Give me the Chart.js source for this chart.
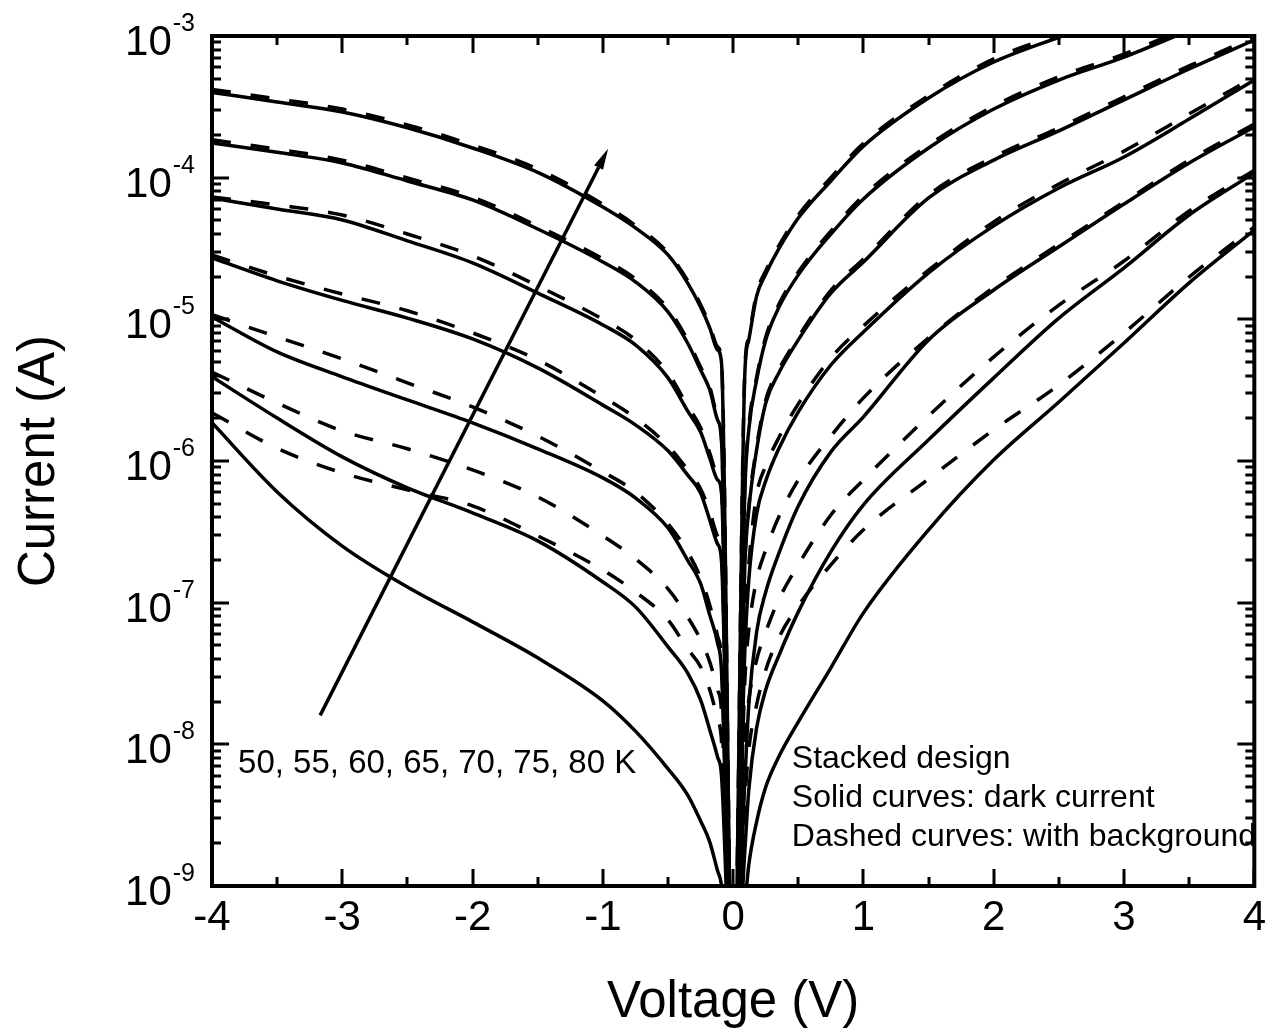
<!DOCTYPE html>
<html>
<head>
<meta charset="utf-8">
<title>Stacked design I-V curves</title>
<script src="https://cdn.jsdelivr.net/npm/chart.js@4.4.1/dist/chart.umd.min.js"></script>
<style>
  html, body { margin: 0; padding: 0; background: #fff; }
  canvas { display: block; }
</style>
</head>
<body>
<canvas id="ivChart" width="1273" height="1034"></canvas>
<script>
// bias sweep shared by all curves (V)
const voltage = [-4, -3.5, -3, -2.5, -2, -1.5, -1, -0.75, -0.5, -0.35, -0.25, -0.18, -0.12, -0.09, 0,
                 0.09, 0.12, 0.18, 0.25, 0.35, 0.5, 0.75, 1, 1.5, 2, 2.5, 3, 3.5, 4];

// dark current (A), solid curves
const dark50 = [1.86e-6, 6.05e-7, 2.51e-7, 1.29e-7, 7.32e-8, 4.08e-8, 2.03e-8, 1.24e-8, 6.72e-9, 4.40e-9, 2.88e-9, 2.05e-9, 1.28e-9, 1.02e-9, 1e-10,
                7.4e-10, 1.41e-9, 2.84e-9, 5.0e-9, 8.16e-9, 1.44e-8, 3.47e-8, 8.47e-8, 3.27e-7, 1.02e-6, 2.61e-6, 6.81e-6, 1.81e-5, 4.27e-5];
const dark55 = [3.93e-6, 2.01e-6, 1.07e-6, 6.46e-7, 4.30e-7, 2.73e-7, 1.40e-7, 9.34e-8, 4.88e-8, 3.20e-8, 2.06e-8, 1.27e-8, 8.16e-9, 6.09e-9, 1e-10,
                1.80e-9, 4.77e-9, 1.31e-8, 2.43e-8, 4.21e-8, 8.61e-8, 2.29e-7, 4.90e-7, 1.41e-6, 3.86e-6, 1.02e-5, 2.31e-5, 5.45e-5, 1.08e-4];
const dark60 = [1.04e-5, 5.89e-6, 3.93e-6, 2.70e-6, 1.86e-6, 1.22e-6, 7.60e-7, 5.49e-7, 3.37e-7, 2.00e-7, 1.36e-7, 8.20e-8, 5.20e-8, 3.35e-8, 1e-10,
                5.61e-9, 1.90e-8, 6.22e-8, 1.19e-7, 2.22e-7, 4.82e-7, 1.16e-6, 2.05e-6, 7.16e-6, 1.61e-5, 3.25e-5, 6.52e-5, 1.27e-4, 2.28e-4];
const dark65 = [2.71e-5, 1.87e-5, 1.36e-5, 1.02e-5, 7.27e-6, 4.54e-6, 2.48e-6, 1.80e-6, 1.18e-6, 7.98e-7, 5.95e-7, 3.84e-7, 2.60e-7, 2.00e-7, 1e-10,
                4.64e-8, 1.45e-7, 4.23e-7, 7.24e-7, 1.22e-6, 2.22e-6, 4.76e-6, 8.15e-6, 2.13e-5, 4.57e-5, 8.46e-5, 1.40e-4, 2.59e-4, 4.89e-4];
const dark70 = [7.19e-5, 6.01e-5, 5.03e-5, 3.58e-5, 2.50e-5, 1.53e-5, 9.13e-6, 6.60e-6, 3.86e-6, 2.26e-6, 1.60e-6, 1.05e-6, 7.36e-7, 6.05e-7, 1e-10,
                1.85e-7, 4.52e-7, 1.20e-6, 2.57e-6, 4.18e-6, 7.16e-6, 1.53e-5, 2.54e-5, 7.19e-5, 1.33e-4, 2.14e-4, 3.54e-4, 5.85e-4, 9.37e-4];
const dark75 = [1.76e-4, 1.51e-4, 1.27e-4, 9.48e-5, 6.96e-5, 4.34e-5, 2.54e-5, 1.84e-5, 1.13e-5, 6.81e-6, 4.39e-6, 3.18e-6, 1.95e-6, 1.41e-6, 1e-10,
                6.25e-7, 1.66e-6, 3.73e-6, 7.16e-6, 1.21e-5, 2.06e-5, 4.0e-5, 7.08e-5, 1.62e-4, 3.05e-4, 4.89e-4, 7.1e-4, 1.10e-3, 1.74e-3];
const dark80 = [4.0e-4, 3.42e-4, 2.91e-4, 2.25e-4, 1.62e-4, 1.09e-4, 6.2e-5, 4.42e-5, 2.85e-5, 1.81e-5, 1.22e-5, 8.7e-6, 6.08e-6, 5.0e-6, 1e-10,
                4.25e-6, 7.16e-6, 1.46e-5, 2.09e-5, 3.14e-5, 5.19e-5, 9.48e-5, 1.67e-4, 3.65e-4, 6.55e-4, 9.8e-4, 1.42e-3, 2.06e-3, 2.83e-3];

// current with background (A), dashed curves
const bg50 = [2.19e-6, 1.23e-6, 8.24e-7, 6.25e-7, 4.82e-7, 2.96e-7, 1.70e-7, 1.19e-7, 7.56e-8, 4.72e-8, 3.53e-8, 2.43e-8, 1.49e-8, 1.07e-8, 1e-10,
              4.07e-9, 9.15e-9, 1.90e-8, 3.35e-8, 5.65e-8, 9.50e-8, 1.85e-7, 3.27e-7, 7.48e-7, 1.66e-6, 3.44e-6, 8.02e-6, 1.99e-5, 4.49e-5];
const bg55 = [4.25e-6, 2.57e-6, 1.63e-6, 1.22e-6, 8.65e-7, 5.58e-7, 2.96e-7, 2.04e-7, 1.25e-7, 7.94e-8, 5.47e-8, 3.82e-8, 2.43e-8, 1.75e-8, 1e-10,
              1.07e-8, 2.06e-8, 3.94e-8, 6.22e-8, 1.05e-7, 1.85e-7, 4.16e-7, 7.36e-7, 2.08e-6, 5.43e-6, 1.26e-5, 2.58e-5, 5.82e-5, 1.13e-4];
const bg60 = [1.08e-5, 7.51e-6, 5.26e-6, 3.56e-6, 2.41e-6, 1.50e-6, 8.38e-7, 6.05e-7, 3.60e-7, 2.29e-7, 1.50e-7, 9.64e-8, 5.83e-8, 3.94e-8, 1e-10,
              2.85e-8, 6.43e-8, 1.45e-7, 2.36e-7, 4.03e-7, 7.36e-7, 1.50e-6, 2.79e-6, 7.39e-6, 1.68e-5, 3.4e-5, 6.74e-5, 1.33e-4, 2.39e-4];
const bg65 = [2.85e-5, 2.02e-5, 1.51e-5, 1.15e-5, 8.02e-6, 5.17e-6, 2.83e-6, 2.01e-6, 1.28e-6, 8.65e-7, 6.36e-7, 4.38e-7, 2.96e-7, 2.29e-7, 1e-10,
              6.43e-8, 1.85e-7, 5.76e-7, 9.23e-7, 1.46e-6, 2.53e-6, 5.34e-6, 8.98e-6, 2.23e-5, 4.87e-5, 9.03e-5, 1.54e-4, 2.82e-4, 5.14e-4];
const bg70 = [7.31e-5, 6.42e-5, 5.45e-5, 4.0e-5, 2.81e-5, 1.72e-5, 1.0e-5, 7.16e-6, 4.18e-6, 2.45e-6, 1.72e-6, 1.14e-6, 7.85e-7, 6.25e-7, 1e-10,
              1.94e-7, 4.75e-7, 1.26e-6, 2.7e-6, 4.4e-6, 7.5e-6, 1.6e-5, 2.67e-5, 7.55e-5, 1.4e-4, 2.25e-4, 3.72e-4, 6.15e-4, 9.85e-4];
const bg75 = [1.85e-4, 1.59e-4, 1.33e-4, 9.95e-5, 7.3e-5, 4.55e-5, 2.67e-5, 1.93e-5, 1.19e-5, 7.15e-6, 4.6e-6, 3.35e-6, 2.05e-6, 1.48e-6, 1e-10,
              6.6e-7, 1.75e-6, 3.9e-6, 7.5e-6, 1.27e-5, 2.16e-5, 4.2e-5, 7.45e-5, 1.7e-4, 3.2e-4, 5.15e-4, 7.45e-4, 1.16e-3, 1.83e-3];
const bg80 = [4.2e-4, 3.6e-4, 3.05e-4, 2.36e-4, 1.7e-4, 1.15e-4, 6.5e-5, 4.6e-5, 2.95e-5, 1.88e-5, 1.27e-5, 9.1e-6, 6.4e-6, 5.2e-6, 1e-10,
              4.5e-6, 7.5e-6, 1.53e-5, 2.2e-5, 3.3e-5, 5.45e-5, 1.0e-4, 1.75e-4, 3.8e-4, 6.9e-4, 1.03e-3, 1.5e-3, 2.15e-3, 2.95e-3];

const temperatures = [50, 55, 60, 65, 70, 75, 80];
const darkCurves = [dark50, dark55, dark60, dark65, dark70, dark75, dark80];
const backgroundCurves = [bg50, bg55, bg60, bg65, bg70, bg75, bg80];

// axis ticks
const xMajorTicks = [-4, -3, -2, -1, 0, 1, 2, 3, 4];
const xMinorTicks = [-3.5, -2.5, -1.5, -0.5, 0.5, 1.5, 2.5, 3.5];
const yDecades = [-9, -8, -7, -6, -5, -4, -3];
const yMinorSteps = [2, 3, 4, 5, 6, 7, 8, 9];

// annotations (data coordinates)
const arrowTail = { x: -3.17, y: 1.6e-8 };
const arrowHead = { x: -0.96, y: 1.6e-4 };
const tempLabel = '50, 55, 60, 65, 70, 75, 80 K';
const tempLabelAt = { x: -3.8, y: 6.3e-9 };
const noteLines = ['Stacked design', 'Solid curves: dark current', 'Dashed curves: with background'];
const noteAt = { x: 0.45, y: 6.8e-9 };

const FONT = "'Liberation Sans', Arial, Helvetica, sans-serif";

// frame, inward ticks, arrow, text and superscript decade labels
const axisDecor = {
  id: 'axisDecor',
  beforeDraw(chart) {
    const { ctx, width, height } = chart;
    ctx.save();
    ctx.fillStyle = '#fff';
    ctx.fillRect(0, 0, width, height);
    ctx.restore();
  },
  afterDatasetsDraw(chart) {
    const { ctx, chartArea: a, scales: { x, y } } = chart;
    ctx.save();
    ctx.strokeStyle = '#000';
    ctx.fillStyle = '#000';
    ctx.lineCap = 'butt';

    ctx.lineWidth = 3;
    ctx.beginPath();
    const vTick = (px, len) => {
      ctx.moveTo(px, a.bottom); ctx.lineTo(px, a.bottom - len);
      ctx.moveTo(px, a.top); ctx.lineTo(px, a.top + len);
    };
    const hTick = (py, len) => {
      ctx.moveTo(a.left, py); ctx.lineTo(a.left + len, py);
      ctx.moveTo(a.right, py); ctx.lineTo(a.right - len, py);
    };
    xMajorTicks.forEach(v => vTick(Math.round(x.getPixelForValue(v)), 17));
    xMinorTicks.forEach(v => vTick(Math.round(x.getPixelForValue(v)), 9));
    const topDecade = yDecades[yDecades.length - 1];
    yDecades.forEach(k => {
      hTick(Math.round(y.getPixelForValue(Math.pow(10, k))), 17);
      if (k < topDecade) {
        yMinorSteps.forEach(m => hTick(Math.round(y.getPixelForValue(m * Math.pow(10, k))), 9));
      }
    });
    ctx.stroke();

    ctx.lineWidth = 4;
    ctx.strokeRect(a.left, a.top, a.right - a.left, a.bottom - a.top);

    // temperature arrow
    const x0 = x.getPixelForValue(arrowTail.x), y0 = y.getPixelForValue(arrowTail.y);
    const x1 = x.getPixelForValue(arrowHead.x), y1 = y.getPixelForValue(arrowHead.y);
    const ang = Math.atan2(y1 - y0, x1 - x0);
    const headLen = 21, headHalf = 5;
    const bx = x1 - headLen * Math.cos(ang), by = y1 - headLen * Math.sin(ang);
    ctx.lineWidth = 3.5;
    ctx.beginPath();
    ctx.moveTo(x0, y0);
    ctx.lineTo(bx, by);
    ctx.stroke();
    ctx.beginPath();
    ctx.moveTo(x1, y1);
    ctx.lineTo(bx + headHalf * Math.sin(ang), by - headHalf * Math.cos(ang));
    ctx.lineTo(bx - headHalf * Math.sin(ang), by + headHalf * Math.cos(ang));
    ctx.closePath();
    ctx.fill();

    ctx.textAlign = 'left';
    ctx.textBaseline = 'alphabetic';
    ctx.font = `33px ${FONT}`;
    ctx.fillText(tempLabel, x.getPixelForValue(tempLabelAt.x), y.getPixelForValue(tempLabelAt.y));
    ctx.font = `32px ${FONT}`;
    const nx = x.getPixelForValue(noteAt.x);
    const ny = y.getPixelForValue(noteAt.y);
    noteLines.forEach((t, i) => ctx.fillText(t, nx, ny + i * 39));
    ctx.restore();
  },
  afterDraw(chart) {
    const { ctx, chartArea: a, scales: { y } } = chart;
    ctx.save();
    ctx.fillStyle = '#000';
    ctx.textAlign = 'right';
    ctx.textBaseline = 'alphabetic';
    const right = a.left - 17;
    yDecades.forEach(k => {
      const py = y.getPixelForValue(Math.pow(10, k));
      const sup = String(k);
      ctx.font = `25px ${FONT}`;
      const w = ctx.measureText(sup).width;
      ctx.fillText(sup, right, py - 5);
      ctx.font = `42px ${FONT}`;
      ctx.fillText('10', right - w - 1, py + 19);
    });
    ctx.restore();
  }
};

const datasets = [];
temperatures.forEach((t, i) => {
  datasets.push({
    label: `${t} K dark`,
    data: voltage.map((v, j) => ({ x: v, y: darkCurves[i][j] })),
    borderColor: '#000',
    borderWidth: 3.5,
    pointRadius: 0,
    cubicInterpolationMode: 'monotone',
    fill: false
  });
  datasets.push({
    label: `${t} K background`,
    data: voltage.map((v, j) => ({ x: v, y: backgroundCurves[i][j] })),
    borderColor: '#000',
    borderWidth: 3.5,
    borderDash: [19, 20],
    pointRadius: 0,
    cubicInterpolationMode: 'monotone',
    fill: false
  });
});

new Chart(document.getElementById('ivChart'), {
  type: 'line',
  data: { datasets },
  options: {
    responsive: false,
    devicePixelRatio: 1,
    animation: false,
    layout: { padding: { top: 36, right: 16, bottom: 0, left: 0 } },
    plugins: {
      legend: { display: false },
      tooltip: { enabled: false }
    },
    scales: {
      x: {
        type: 'linear',
        min: -4,
        max: 4,
        grid: { display: false, drawTicks: false },
        border: { display: false },
        ticks: {
          stepSize: 1,
          padding: 7,
          color: '#000',
          maxRotation: 0,
          autoSkip: false,
          font: { family: FONT, size: 42 }
        },
        title: {
          display: true,
          text: 'Voltage (V)',
          color: '#000',
          font: { family: FONT, size: 51 },
          padding: { top: 0, bottom: 0 }
        },
        afterFit(scale) { scale.height = 148; }
      },
      y: {
        type: 'logarithmic',
        min: 1e-9,
        max: 1e-3,
        grid: { display: false, drawTicks: false },
        border: { display: false },
        ticks: { display: false },
        title: {
          display: true,
          text: 'Current (A)',
          color: '#000',
          font: { family: FONT, size: 51 },
          padding: { top: 9, bottom: 0 }
        },
        afterFit(scale) { scale.width = 212; }
      }
    }
  },
  plugins: [axisDecor]
});
</script>
</body>
</html>
